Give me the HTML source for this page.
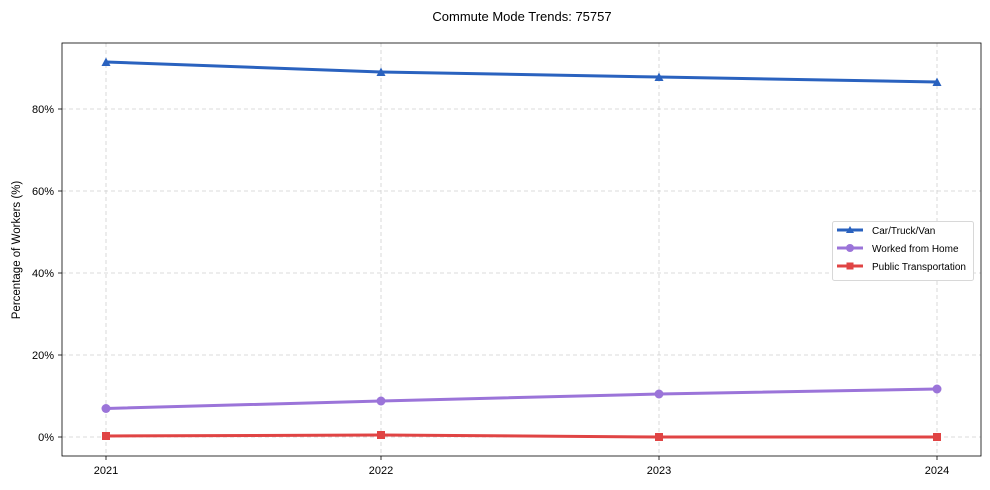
<!DOCTYPE html>
<html><head><meta charset="utf-8"><style>
body{margin:0;background:#fff}
svg{display:block;font-family:"Liberation Sans",Arial,sans-serif}
</style></head><body>
<svg width="990" height="490" viewBox="0 0 990 490">
<rect width="990" height="490" fill="#fff"/>
<text x="522" y="21" font-size="13" text-anchor="middle" fill="#000">Commute Mode Trends: 75757</text>
<g stroke="#d0d0d0" stroke-dasharray="4,3" stroke-width="0.8">
<line x1="106" y1="43" x2="106" y2="456"/><line x1="381" y1="43" x2="381" y2="456"/>
<line x1="659" y1="43" x2="659" y2="456"/><line x1="937" y1="43" x2="937" y2="456"/>
<line x1="62" y1="437" x2="981" y2="437"/><line x1="62" y1="355" x2="981" y2="355"/>
<line x1="62" y1="273" x2="981" y2="273"/><line x1="62" y1="191" x2="981" y2="191"/>
<line x1="62" y1="109" x2="981" y2="109"/>
</g>
<rect x="62" y="43" width="919" height="413" fill="none" stroke="#000" stroke-width="0.8"/>
<g stroke="#000" stroke-width="0.8">
<line x1="106" y1="456" x2="106" y2="460"/><line x1="381" y1="456" x2="381" y2="460"/>
<line x1="659" y1="456" x2="659" y2="460"/><line x1="937" y1="456" x2="937" y2="460"/>
<line x1="58" y1="437" x2="62" y2="437"/><line x1="58" y1="355" x2="62" y2="355"/>
<line x1="58" y1="273" x2="62" y2="273"/><line x1="58" y1="191" x2="62" y2="191"/>
<line x1="58" y1="109" x2="62" y2="109"/>
</g>
<g font-size="11" fill="#000" text-anchor="middle">
<text x="106" y="474">2021</text><text x="381" y="474">2022</text>
<text x="659" y="474">2023</text><text x="937" y="474">2024</text>
</g>
<g font-size="11" fill="#000" text-anchor="end">
<text x="54" y="441">0%</text><text x="54" y="359">20%</text><text x="54" y="277">40%</text>
<text x="54" y="195">60%</text><text x="54" y="113">80%</text>
</g>
<text transform="translate(20,250) rotate(-90)" font-size="11.5" text-anchor="middle">Percentage of Workers (%)</text>
<polyline points="106,62 381,72 659,77 937,82" fill="none" stroke="#2a62bf" stroke-width="3"/>
<g fill="#2a62bf">
<polygon points="106,57.5 110.5,66 101.5,66"/><polygon points="381,67.5 385.5,76 376.5,76"/>
<polygon points="659,72.5 663.5,81 654.5,81"/><polygon points="937,77.5 941.5,86 932.5,86"/>
</g>
<polyline points="106,408.5 381,401 659,394 937,389" fill="none" stroke="#9b74d9" stroke-width="3"/>
<g fill="#9b74d9">
<circle cx="106" cy="408.5" r="4.5"/><circle cx="381" cy="401" r="4.5"/>
<circle cx="659" cy="394" r="4.5"/><circle cx="937" cy="389" r="4.5"/>
</g>
<polyline points="106,436 381,435 659,437 937,437" fill="none" stroke="#e04444" stroke-width="3"/>
<g fill="#e04444">
<rect x="102" y="432" width="8" height="8"/><rect x="377" y="431" width="8" height="8"/>
<rect x="655" y="433" width="8" height="8"/><rect x="933" y="433" width="8" height="8"/>
</g>
<rect x="832.5" y="221.5" width="141" height="59" rx="2" fill="#fff" stroke="#d8d8d8"/>
<g font-size="10" fill="#000">
<line x1="837" y1="230" x2="863" y2="230" stroke="#2a62bf" stroke-width="3"/>
<polygon points="850,226 854,233 846,233" fill="#2a62bf"/>
<text x="872" y="234">Car/Truck/Van</text>
<line x1="837" y1="248" x2="863" y2="248" stroke="#9b74d9" stroke-width="3"/>
<circle cx="850" cy="248" r="4" fill="#9b74d9"/>
<text x="872" y="252">Worked from Home</text>
<line x1="837" y1="266" x2="863" y2="266" stroke="#e04444" stroke-width="3"/>
<rect x="846.5" y="262.5" width="7" height="7" fill="#e04444"/>
<text x="872" y="270">Public Transportation</text>
</g>
</svg>
</body></html>
